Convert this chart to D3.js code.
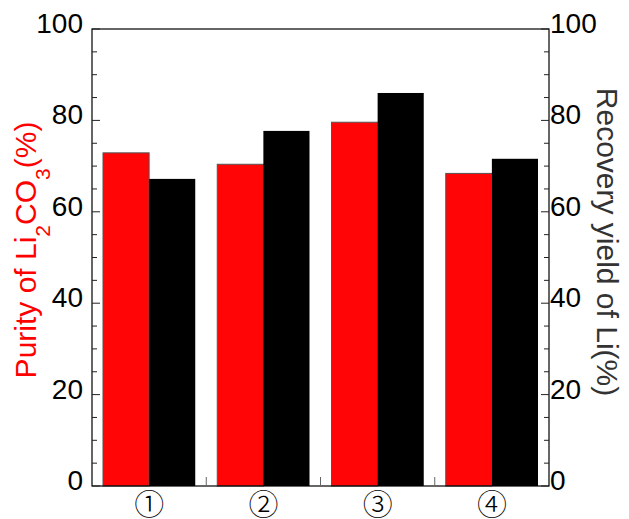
<!DOCTYPE html>
<html>
<head>
<meta charset="utf-8">
<script src="https://cdn.jsdelivr.net/npm/d3@7"></script>
<style>
  body { margin: 0; background: #fff; }
  svg { display: block; }
</style>
</head>
<body>
<svg id="chart" width="629" height="519"></svg>
<script>
// categories + two series (purity on left axis, recovery on right axis)
const categories = ['①', '②', '③', '④'];
const purity = [72.9, 70.4, 79.6, 68.4];
const recovery = [67.2, 77.7, 86.0, 71.6];
const yTicks = [0, 20, 40, 60, 80, 100];

const W = 629, H = 519;
const m = { left: 92, right: 80, top: 29, bottom: 33 };
const FONT = '"Liberation Sans", Arial, sans-serif';

const svg = d3.select('#chart');
const plotW = W - m.left - m.right, plotH = H - m.top - m.bottom;

// band: step = plotW/4, bar group ~92px wide, ~11px from each boundary
const x = d3.scaleBand().domain(categories).range([m.left, m.left + plotW])
  .paddingInner(0.1926).paddingOuter(0.0963);
const xs = d3.scaleBand().domain(['purity', 'recovery']).range([0, x.bandwidth()]);
const yL = d3.scaleLinear().domain([0, 100]).range([m.top + plotH, m.top]);
const yR = d3.scaleLinear().domain([0, 100]).range([m.top + plotH, m.top]);

const rows = categories.map((c, i) => ({ cat: c, purity: purity[i], recovery: recovery[i] }));

// ---- bars ----
const g = svg.append('g');
g.selectAll('rect.pur').data(rows).enter().append('rect')
  .attr('class', 'pur')
  .attr('x', (d) => x(d.cat) + xs('purity'))
  .attr('width', xs.bandwidth())
  .attr('y', (d) => yL(d.purity))
  .attr('height', (d) => yL(0) - yL(d.purity))
  .attr('fill', '#ff0505')
  .attr('stroke', '#555').attr('stroke-width', 1);
g.selectAll('rect.rec').data(rows).enter().append('rect')
  .attr('class', 'rec')
  .attr('x', (d) => x(d.cat) + xs('recovery'))
  .attr('width', xs.bandwidth())
  .attr('y', (d) => yR(d.recovery))
  .attr('height', (d) => yR(0) - yR(d.recovery))
  .attr('fill', '#000');

// ---- frame / axes ----
const x0 = m.left, x1 = m.left + plotW, yTop = m.top, yBot = m.top + plotH;
const frame = svg.append('g').attr('stroke', '#000').attr('stroke-width', 1.2).attr('fill', 'none');
frame.append('rect').attr('x', x0).attr('y', yTop).attr('width', plotW).attr('height', plotH);

// left/right axes: inward ticks, major 20 / minor 5
const minor = d3.range(0, 101, 5).filter((v) => v % 20 !== 0);
const tk = svg.append('g').attr('stroke', '#222').attr('stroke-width', 1);
yTicks.forEach((v) => {
  tk.append('line').attr('x1', x0).attr('x2', x0 + 8).attr('y1', yL(v)).attr('y2', yL(v));
  tk.append('line').attr('x1', x1).attr('x2', x1 - 8).attr('y1', yR(v)).attr('y2', yR(v));
});
minor.forEach((v) => {
  tk.append('line').attr('x1', x0).attr('x2', x0 + 5).attr('y1', yL(v)).attr('y2', yL(v));
  tk.append('line').attr('x1', x1).attr('x2', x1 - 5).attr('y1', yR(v)).attr('y2', yR(v));
});
// bottom ticks between groups
categories.slice(1).forEach((c) => {
  const bx = x(c) - (x.step() - x.bandwidth()) / 2;
  tk.append('line').attr('x1', bx).attr('x2', bx).attr('y1', yBot).attr('y2', yBot - 9)
    .attr('stroke', '#666');
});

// tick labels
svg.append('g').selectAll('text').data(yTicks).enter().append('text')
  .attr('x', x0 - 9).attr('y', (d) => yL(d) + 4)
  .attr('text-anchor', 'end')
  .attr('font-family', FONT).attr('font-size', 28).attr('fill', '#000')
  .text((d) => d);
svg.append('g').selectAll('text').data(yTicks).enter().append('text')
  .attr('x', x1 + 1).attr('y', (d) => yR(d) + 4)
  .attr('text-anchor', 'start')
  .attr('font-family', FONT).attr('font-size', 28).attr('fill', '#000')
  .text((d) => d);

svg.append('g').selectAll('text').data(categories).enter().append('text')
  .attr('x', (d) => x(d) + x.bandwidth() / 2)
  .attr('y', 515)
  .attr('text-anchor', 'middle')
  .attr('font-family', '"Noto Sans CJK SC", "DejaVu Sans", sans-serif')
  .attr('font-size', 30).attr('font-weight', 300).attr('fill', '#000')
  .text((d) => d);

// axis titles
const lt = svg.append('text')
  .attr('transform', 'translate(36,250) rotate(-90)')
  .attr('text-anchor', 'middle')
  .attr('font-family', FONT).attr('font-size', 30).attr('fill', '#ff0000');
lt.append('tspan').text('Purity of Li');
lt.append('tspan').attr('font-size', 21).attr('dy', 14).text('2');
lt.append('tspan').attr('dy', -14).text('CO');
lt.append('tspan').attr('font-size', 21).attr('dy', 14).text('3');
lt.append('tspan').attr('dy', -14).text('(%)');

svg.append('text')
  .attr('transform', 'translate(597,242) rotate(90)')
  .attr('text-anchor', 'middle')
  .attr('font-family', FONT).attr('font-size', 30).attr('fill', '#333')
  .text('Recovery yield of Li(%)');
</script>
</body>
</html>
